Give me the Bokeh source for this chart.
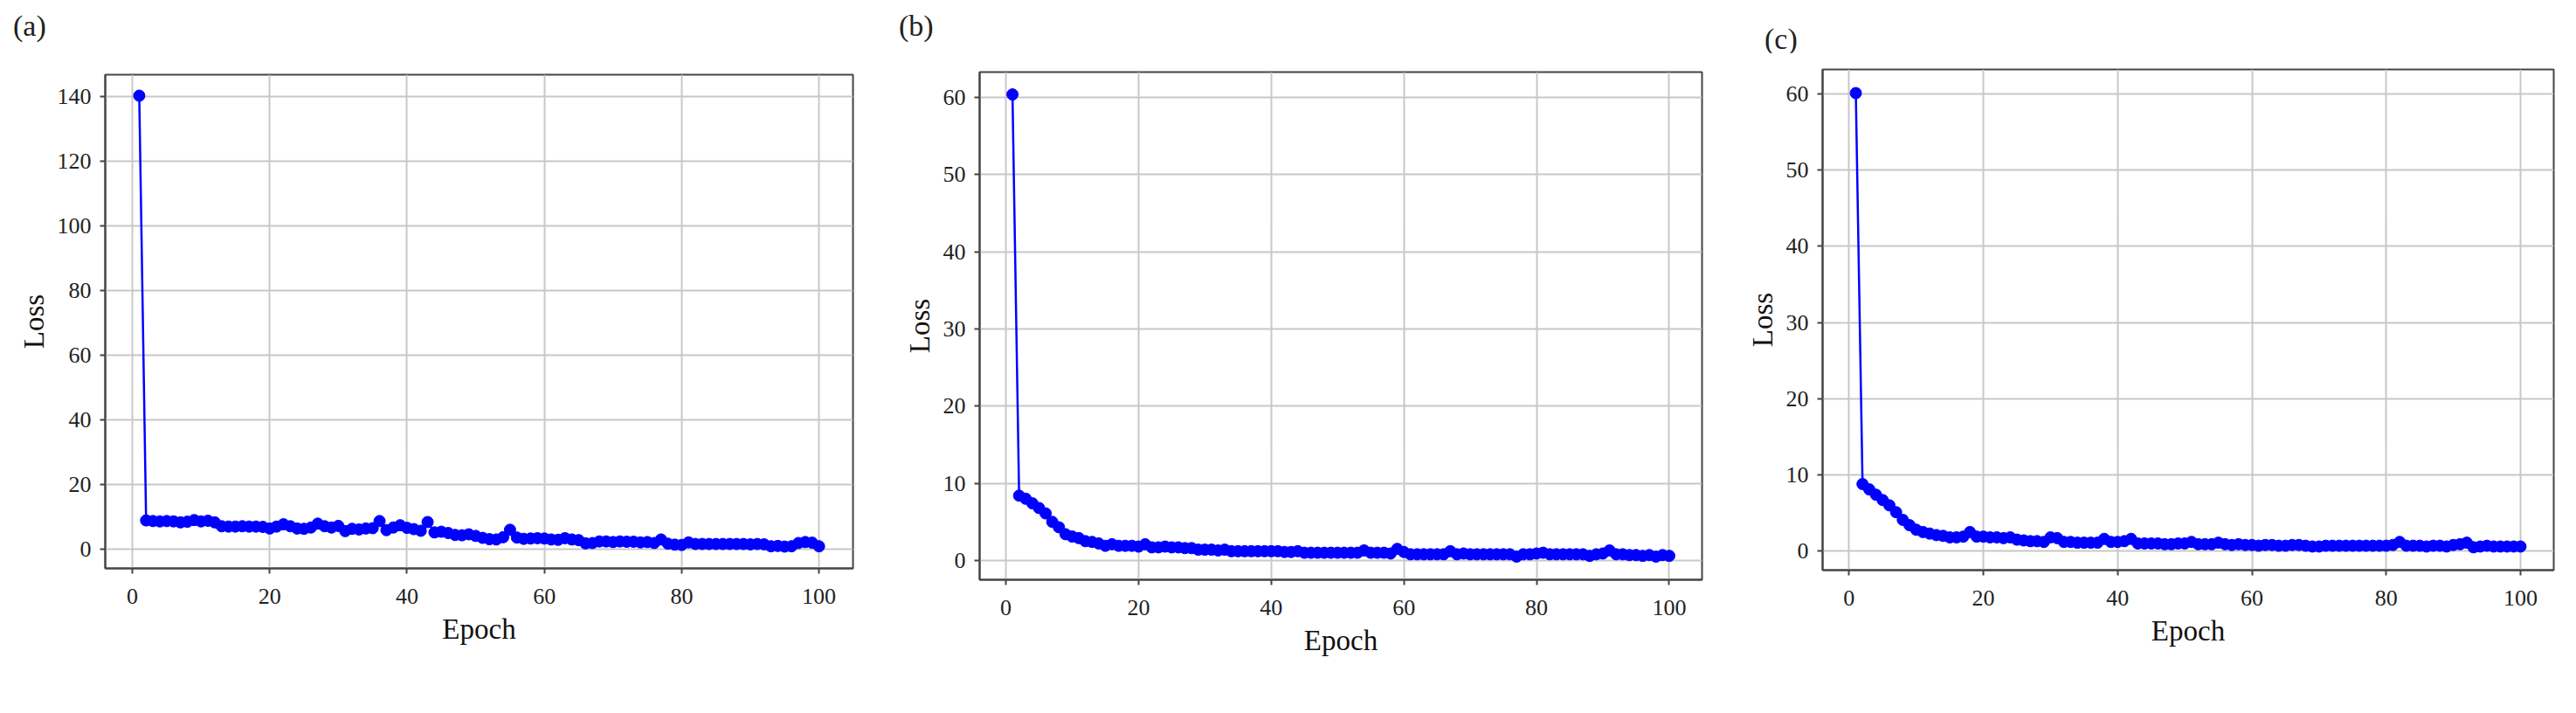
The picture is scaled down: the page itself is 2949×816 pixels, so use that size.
from bokeh.plotting import figure
from bokeh.layouts import row, column
from bokeh.models import Range1d, FixedTicker, Div
from bokeh.embed import file_html
from bokeh.resources import INLINE

epochs = list(range(1, 101))

loss_a = [140.3, 8.8, 8.6, 8.5, 8.6, 8.5, 8.2, 8.4, 8.9, 8.5,
          8.7, 8.2, 7.0, 6.9, 6.9, 7.0, 6.9, 6.9, 6.8, 6.3,
          6.9, 7.6, 7.0, 6.3, 6.2, 6.6, 7.8, 7.0, 6.6, 7.1,
          5.5, 6.2, 6.0, 6.3, 6.4, 8.6, 5.8, 6.6, 7.3, 6.5,
          6.1, 5.6, 8.3, 5.1, 5.3, 4.9, 4.3, 4.2, 4.5, 4.0,
          3.4, 3.0, 2.9, 3.6, 5.9, 3.5, 3.1, 3.2, 3.3, 3.2,
          2.9, 2.8, 3.3, 2.9, 2.7, 1.7, 1.8, 2.3, 2.3, 2.1,
          2.3, 2.2, 2.2, 2.0, 2.1, 1.8, 2.9, 1.6, 1.3, 1.2,
          2.0, 1.5, 1.5, 1.5, 1.5, 1.5, 1.5, 1.5, 1.5, 1.4,
          1.5, 1.4, 0.8, 0.9, 0.7, 0.8, 1.8, 2.1, 1.9, 0.8]

loss_b = [60.4, 8.4, 8.0, 7.4, 6.8, 6.1, 5.0, 4.3, 3.4, 3.1,
          2.9, 2.5, 2.4, 2.2, 1.9, 2.1, 1.9, 1.9, 1.9, 1.8,
          2.1, 1.7, 1.7, 1.8, 1.7, 1.7, 1.6, 1.6, 1.4, 1.4,
          1.4, 1.3, 1.4, 1.2, 1.2, 1.2, 1.2, 1.2, 1.2, 1.2,
          1.2, 1.1, 1.1, 1.2, 1.0, 1.0, 1.0, 1.0, 1.0, 1.0,
          1.0, 1.0, 1.0, 1.3, 1.0, 1.0, 1.0, 0.9, 1.5, 1.1,
          0.8, 0.8, 0.8, 0.8, 0.8, 0.8, 1.2, 0.8, 0.9, 0.8,
          0.8, 0.8, 0.8, 0.8, 0.8, 0.8, 0.5, 0.8, 0.8, 0.9,
          1.0, 0.8, 0.8, 0.8, 0.8, 0.8, 0.8, 0.6, 0.8, 0.9,
          1.3, 0.8, 0.8, 0.7, 0.7, 0.6, 0.7, 0.5, 0.7, 0.6]

loss_c = [60.1, 8.8, 8.1, 7.4, 6.7, 6.0, 5.1, 4.1, 3.4, 2.8,
          2.5, 2.3, 2.1, 2.0, 1.8, 1.8, 1.9, 2.5, 1.9, 1.9,
          1.8, 1.8, 1.7, 1.8, 1.5, 1.4, 1.3, 1.3, 1.2, 1.8,
          1.7, 1.2, 1.2, 1.1, 1.1, 1.1, 1.1, 1.6, 1.2, 1.2,
          1.3, 1.6, 1.0, 1.0, 1.0, 1.0, 0.9, 0.9, 1.0, 1.0,
          1.2, 0.9, 0.9, 0.9, 1.1, 0.9, 0.8, 0.9, 0.8, 0.8,
          0.7, 0.8, 0.8, 0.7, 0.7, 0.8, 0.8, 0.7, 0.6, 0.6,
          0.7, 0.7, 0.7, 0.7, 0.7, 0.7, 0.7, 0.7, 0.7, 0.7,
          0.8, 1.2, 0.7, 0.7, 0.7, 0.6, 0.7, 0.7, 0.6, 0.8,
          0.9, 1.1, 0.5, 0.6, 0.7, 0.6, 0.6, 0.6, 0.6, 0.6]

panel_labels = ["(a)", "(b)", "(c)"]
x_ticks = [0, 20, 40, 60, 80, 100]
y_ticks_a = [0, 20, 40, 60, 80, 100, 120, 140]
y_ticks_bc = [0, 10, 20, 30, 40, 50, 60]
x_label = "Epoch"
y_label = "Loss"

FONT = "Liberation Serif"
BLUE = "#0000ff"
HEAD_H = 60
MAIN_H = 740


def make_head(label, width, pad_left, pad_top):
    html = ('<div style="padding:%dpx 0 0 %dpx; font-family:\'Liberation Serif\', serif; '
            'font-size:34px; line-height:1; color:#222222;">%s</div>' % (pad_top, pad_left, label))
    return Div(text=html, width=width, height=HEAD_H, margin=0)


def make_panel(ys, yticks, yrange, width, bl, br, bt, bb):
    p = figure(width=width, height=MAIN_H, output_backend="svg", toolbar_location=None,
               x_range=Range1d(-3.95, 104.95), y_range=Range1d(*yrange),
               min_border_left=bl, min_border_right=br, min_border_top=bt,
               min_border_bottom=bb)
    p.line(epochs, ys, line_color=BLUE, line_width=2.5)
    p.scatter(epochs, ys, size=13, fill_color=BLUE, line_color=BLUE)

    p.xaxis.ticker = FixedTicker(ticks=x_ticks)
    p.yaxis.ticker = FixedTicker(ticks=yticks)
    p.xaxis.axis_label = x_label
    p.yaxis.axis_label = y_label
    for ax in (p.xaxis, p.yaxis):
        ax.axis_label_text_font = FONT
        ax.axis_label_text_font_size = "33px"
        ax.axis_label_text_font_style = "normal"
        ax.axis_label_text_color = "#111111"
        ax.major_label_text_font = FONT
        ax.major_label_text_font_size = "26px"
        ax.major_label_text_color = "#222222"
        ax.axis_line_color = "#444444"
        ax.axis_line_width = 2
        ax.major_tick_line_color = "#444444"
        ax.major_tick_line_width = 2
        ax.major_tick_out = 6
        ax.major_tick_in = 0
        ax.minor_tick_line_color = None
    p.xaxis.major_label_standoff = 17
    p.xaxis.axis_label_standoff = 8
    p.yaxis.major_label_standoff = 10
    p.yaxis.axis_label_standoff = 6

    p.grid.grid_line_color = "#c8c8c8"
    p.grid.grid_line_width = 2
    p.outline_line_color = "#444444"
    p.outline_line_width = 2
    p.outline_line_alpha = 1.0
    p.background_fill_color = "white"
    p.border_fill_color = "white"
    return p


ha = make_head(panel_labels[0], 1026, 15, 13)
hb = make_head(panel_labels[1], 965, 3, 13)
hc = make_head(panel_labels[2], 934, 29, 28)

pa = make_panel(loss_a, y_ticks_a, (-6.05, 146.8), 1026, 120, 50, 25, 150)
pb = make_panel(loss_b, y_ticks_bc, (-2.5, 63.3), 965, 95, 43, 22, 137)
pc = make_panel(loss_c, y_ticks_bc, (-2.5, 63.2), 934, 95, 2, 19, 148)

layout = row(column(ha, pa), column(hb, pb), column(hc, pc))
open("out.html", "w").write(file_html(layout, INLINE))
